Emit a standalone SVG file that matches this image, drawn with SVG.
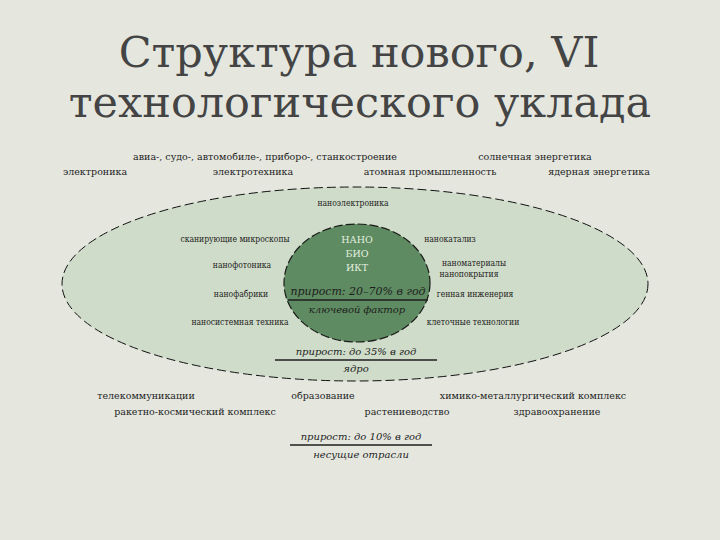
<svg xmlns="http://www.w3.org/2000/svg" width="720" height="540" viewBox="0 0 720 540">
<style>
.t{font-family:"DejaVu Serif",serif;font-size:9.5px;fill:#1e1e1e;text-anchor:middle}
.s{font-family:"DejaVu Serif Condensed","DejaVu Serif",serif;font-stretch:condensed;font-size:8.5px;fill:#1e1e1e;text-anchor:middle}
.i{font-family:"DejaVu Serif",serif;font-size:10px;font-style:italic;fill:#1e1e1e;text-anchor:middle}
.w{font-family:"DejaVu Serif",serif;font-size:9.5px;fill:#e4efe0;text-anchor:middle}
.title{font-family:"DejaVu Serif",serif;font-size:43px;fill:#444;text-anchor:middle}
.rule{stroke:#1e1e1e;stroke-width:1.5}
</style>
<rect width="720" height="540" fill="#e5e7df"/>
<g id="title">
<text class="title" x="359" y="67">Структура нового, VI</text>
<text class="title" x="360" y="117">технологического уклада</text>
</g>
<g id="outer-sectors">
<text class="t" x="265" y="160">авиа-, судо-, автомобиле-, приборо-, станкостроение</text>
<text class="t" x="535" y="160">солнечная энергетика</text>
<text class="t" x="95" y="175">электроника</text>
<text class="t" x="253" y="175">электротехника</text>
<text class="t" x="430" y="175">атомная промышленность</text>
<text class="t" x="599" y="175">ядерная энергетика</text>
</g>
<g id="core-ellipse">
<ellipse cx="355" cy="284" rx="293" ry="97" fill="#cfdcc9" stroke="#111" stroke-width="1" stroke-dasharray="9,4"/>
<text class="s" x="353" y="206">наноэлектроника</text>
<text class="s" x="235" y="242">сканирующие микроскопы</text>
<text class="s" x="242" y="268">нанофотоника</text>
<text class="s" x="241" y="297">нанофабрики</text>
<text class="s" x="240" y="325">наносистемная техника</text>
<text class="s" x="450" y="242">нанокатализ</text>
<text class="s" x="474" y="266">наноматериалы</text>
<text class="s" x="469" y="277">нанопокрытия</text>
<text class="s" x="475" y="297">генная инженерия</text>
<text class="s" x="473" y="325">клеточные технологии</text>
<text class="i" x="356" y="355">прирост: до 35% в год</text>
<line class="rule" x1="275" y1="360" x2="437" y2="360" stroke-width="2"/>
<text class="i" x="356" y="372">ядро</text>
</g>
<g id="key-factor">
<ellipse cx="357" cy="283" rx="73" ry="59" fill="#5e8b61" stroke="#1a1a1a" stroke-width="1.2" stroke-dasharray="9,3"/>
<text class="w" x="357" y="243">НАНО</text>
<text class="w" x="357" y="257">БИО</text>
<text class="w" x="357" y="271">ИКТ</text>
<text class="i" x="358" y="295" style="font-size:11px">прирост: 20–70% в год</text>
<line class="rule" x1="288" y1="300" x2="428" y2="300"/>
<text class="i" x="357" y="313">ключевой фактор</text>
</g>
<g id="carrier-sectors">
<text class="t" x="146" y="399">телекоммуникации</text>
<text class="t" x="323" y="399">образование</text>
<text class="t" x="533" y="399">химико-металлургический комплекс</text>
<text class="t" x="195" y="415">ракетно-космический комплекс</text>
<text class="t" x="407" y="415">растениеводство</text>
<text class="t" x="557" y="415">здравоохранение</text>
<text class="i" x="361" y="440">прирост: до 10% в год</text>
<line class="rule" x1="290" y1="445" x2="432" y2="445"/>
<text class="i" x="361" y="458">несущие отрасли</text>
</g>
<g id="connectors"/>
</svg>
